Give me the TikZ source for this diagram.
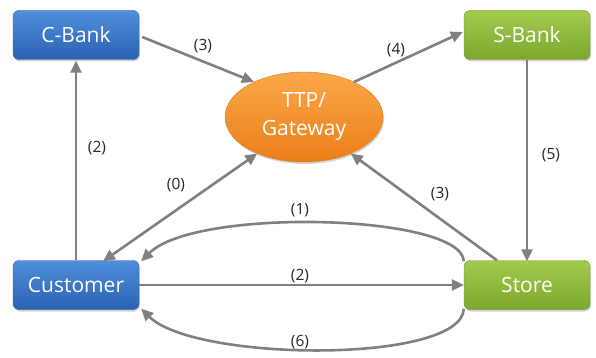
\documentclass[tikz,border=0pt]{standalone}
\usepackage{fontspec}
\setmainfont{Open Sans}
\usetikzlibrary{shapes.geometric,arrows.meta,shadows}
\definecolor{arr}{HTML}{808080}
\definecolor{blueT}{HTML}{4F8FDB}
\definecolor{blueB}{HTML}{2A62B0}
\definecolor{blueD}{HTML}{2B5C9E}
\definecolor{greenT}{HTML}{A2CB4E}
\definecolor{greenB}{HTML}{7BA82C}
\definecolor{greenD}{HTML}{6E9630}
\definecolor{orT}{HTML}{FBA848}
\definecolor{orB}{HTML}{EA7F18}
\definecolor{orD}{HTML}{D8761A}
\begin{document}
\begin{tikzpicture}[x=1pt,y=-1pt,
  box/.style={rectangle,rounded corners=6pt,minimum width=126pt,minimum height=49pt,
    text=white,font=\fontsize{21}{24}\selectfont,inner sep=0pt,
    drop shadow={opacity=0.35,shadow xshift=1pt,shadow yshift=-2pt}},
  bluebox/.style={box,draw=blueD,top color=blueT,bottom color=blueB},
  greenbox/.style={box,draw=greenD,top color=greenT,bottom color=greenB},
  conn/.style={draw=arr,line width=2.6pt,-{Triangle[length=12pt,width=11pt]}},
  lbl/.style={font=\fontsize{15.5}{17}\selectfont,text=black!85,inner sep=1pt}]
\useasboundingbox (0,0) rectangle (596,358);
\node[bluebox] (cbank) at (76,35) {C-Bank};
\node[greenbox] (sbank) at (527,35) {S-Bank};
\node[bluebox] (cust) at (76,285) {Customer};
\node[greenbox] (store) at (527,285) {Store};
\node[ellipse,minimum width=158pt,minimum height=90pt,inner sep=0pt,draw=orD,
  top color=orT,bottom color=orB,text=white,align=center,
  font=\fontsize{21}{28}\selectfont,
  drop shadow={opacity=0.35,shadow xshift=1pt,shadow yshift=-2pt}] (ttp) at (304,117) {TTP/\\Gateway};
% connectors
\draw[conn] ([xshift=3pt,yshift=-2pt]cbank.east) -- (ttp.145);
\node[lbl] (l3a) at (203,46) {(3)};
\draw[conn] (ttp.35) -- ([xshift=-1pt,yshift=3pt]sbank.west);
\node[lbl] (l4) at (396,50) {(4)};
\draw[conn] (cust.north) -- ([yshift=-1pt]cbank.south);
\node[lbl] (l2a) at (97,148) {(2)};
\draw[draw=arr,line width=2.6pt,{Triangle[length=12pt,width=11pt]}-{Triangle[length=12pt,width=11pt]}] (ttp.218) -- ([xshift=27pt,yshift=-1pt]cust.north);
\node[lbl] (l0) at (176,185) {(0)};
\draw[conn] ([xshift=-30pt]store.north) -- (ttp.322);
\node[lbl] (l3b) at (440,194) {(3)};
\draw[conn] (sbank.south) -- ([yshift=-1pt]store.north);
\node[lbl] (l5) at (551,155) {(5)};
\draw[conn] ([yshift=-1pt]store.north west) .. controls (462,214) and (195,207) .. ([xshift=2pt,yshift=-1pt]cust.north east);
\node[lbl] (l1) at (300,210) {(1)};
\draw[conn] (cust.east) -- (store.west);
\node[lbl] (l2b) at (300,276) {(2)};
\draw[conn] ([yshift=1pt]store.south west) .. controls (462,364) and (195,362) .. ([xshift=2pt,yshift=1pt]cust.south east);
\node[lbl] (l6) at (300,342) {(6)};
\end{tikzpicture}
\end{document}
